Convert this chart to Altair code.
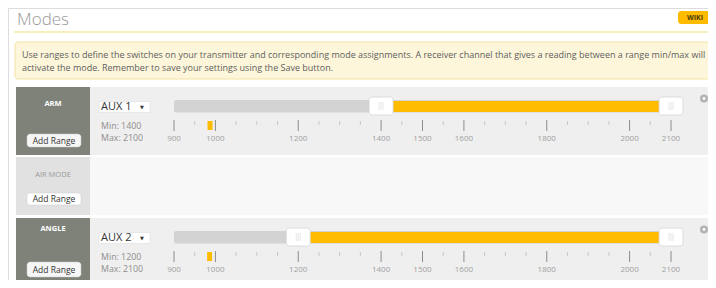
import altair as alt
import pandas as pd

# ---------------- data ----------------
title_text = "Modes"
wiki_text = "WIKI"
info_lines = [
    "Use ranges to define the switches on your transmitter and corresponding mode assignments. A receiver channel that gives a reading between a range min/max will",
    "activate the mode. Remember to save your settings using the Save button.",
]
mode_names = ["ARM", "AIR MODE", "ANGLE"]
mode_active = [True, False, True]
aux_channels = ["AUX 1", "", "AUX 2"]
range_min = [1400, None, 1200]
range_max = [2100, None, 2100]
channel_value = [987, None, 986]
button_label = "Add Range"
major_ticks = [900, 1000, 1200, 1400, 1500, 1600, 1800, 2000, 2100]
minor_ticks = [950, 1050, 1100, 1150, 1250, 1300, 1350, 1450, 1550, 1650,
               1700, 1750, 1850, 1900, 1950, 2050]
slider_lo, slider_hi = 900, 2100

# ---------------- layout (reference pixel coordinates) ----------------
OFF = 8
W, H = 700, 272
ROW_TOP = [87, 157, 218]
ROW_BOT = [155, 215, 292]
LABEL_Y = [104, 175, 229]
BTN_Y = [(134, 147), (193, 205), (262, 277)]
PX900, PX2100 = 174, 671
K = (PX2100 - PX900) / (slider_hi - slider_lo)

ORANGE = "#ffbb00"
FONT = "Open Sans"

XPX = alt.Scale(domain=[OFF, OFF + W], range=[0, W], nice=False, zero=False)
YPX = alt.Scale(domain=[OFF, OFF + H], range=[0, H], nice=False, zero=False)
lo = slider_lo - (PX900 - OFF) / K
XPWM = alt.Scale(domain=[lo, lo + W / K], range=[0, W], nice=False, zero=False)


def rects(rows, xscale=XPX, **mark):
    df = pd.DataFrame(rows, columns=["x0", "x1", "y0", "y1", "fill"])
    return alt.Chart(df).mark_rect(**mark).encode(
        x=alt.X("x0:Q", scale=xscale, axis=None), x2="x1:Q",
        y=alt.Y("y0:Q", scale=YPX, axis=None), y2="y1:Q",
        color=alt.Color("fill:N", scale=None))


def texts(rows, xscale=XPX, **mark):
    df = pd.DataFrame(rows, columns=["x", "y", "t", "c"])
    m = dict(font=FONT, baseline="middle")
    m.update(mark)
    return alt.Chart(df).mark_text(**m).encode(
        x=alt.X("x:Q", scale=xscale, axis=None),
        y=alt.Y("y:Q", scale=YPX, axis=None),
        text="t:N", color=alt.Color("c:N", scale=None))


layers = []

# header
layers.append(texts([(17, 19.5, title_text, "#9a9a9a")], fontSize=17, fontWeight=300, align="left"))
layers.append(rects([(678, 712, 11, 24, ORANGE)], cornerRadius=3))
layers.append(texts([(695, 17.5, wiki_text, "#4a3a00")], fontSize=7, fontWeight="bold", align="center"))
layers.append(rects([(14, 716, 31, 33, "#f8efbd")]))

# info box
layers.append(rects([(15, 712, 42, 79, "#fdf6da")], stroke="#f3e3a2", strokeWidth=1, cornerRadius=3))
layers.append(texts([(22, 55, info_lines[0], "#5e5e5e"), (22, 68, info_lines[1], "#5e5e5e")],
                    fontSize=9, align="left"))

# rows: panels
left_rows, right_rows, name_rows, btn_rows, btn_text = [], [], [], [], []
for i, name in enumerate(mode_names):
    act = mode_active[i]
    left_rows.append((16, 90, ROW_TOP[i], ROW_BOT[i], "#7e8279" if act else "#e1e1e1"))
    right_rows.append((90, 716, ROW_TOP[i], ROW_BOT[i], "#efefef" if act else "#f8f8f8"))
    name_rows.append((53, LABEL_Y[i], name, "#ffffff" if act else "#9a9a9a"))
    btn_rows.append((27, 81, BTN_Y[i][0], BTN_Y[i][1], "#f6f6f6" if act else "#ffffff"))
    btn_text.append((54, (BTN_Y[i][0] + BTN_Y[i][1]) / 2, button_label, "#333333"))
layers.append(rects(left_rows))
layers.append(rects(right_rows))
layers.append(texts([r for r, a in zip(name_rows, mode_active) if a], fontSize=7.5, fontWeight="bold", align="center"))
layers.append(texts([r for r, a in zip(name_rows, mode_active) if not a], fontSize=7.5, align="center"))
layers.append(rects(btn_rows, stroke="#cfcfcf", strokeWidth=0.5, cornerRadius=3))
layers.append(texts(btn_text, fontSize=8.5, align="center"))

# active rows: dropdown, min/max, slider
dd, dd_t, dd_a, mm, track, rng, handles, marker, maj, minr, lab, gear = ([] for _ in range(12))
for i, name in enumerate(mode_names):
    if not mode_active[i]:
        continue
    t = ROW_TOP[i]
    dd.append((99, 150, t + 14.5, t + 25.5, "#ffffff"))
    dd_t.append((101, t + 20, aux_channels[i], "#333333"))
    dd_a.append((142, t + 19.5, "▼", "#333333"))
    mm.append((101, t + 39, f"Min: {range_min[i]}", "#8e8e8e"))
    mm.append((101, t + 50.5, f"Max: {range_max[i]}", "#8e8e8e"))
    track.append((slider_lo, slider_hi, t + 13, t + 25.5, "#d3d3d3"))
    rng.append((range_min[i], range_max[i], t + 14, t + 25, ORANGE))
    for v in (range_min[i], range_max[i]):
        handles.append((v, v, t + 10, t + 28, "#ffffff"))
    marker.append((channel_value[i], channel_value[i], t + 34, t + 43, ORANGE))
    for v in major_ticks:
        maj.append((v, v, t + 33, t + 44, "#8c8c8c"))
        lab.append((v, t + 52, str(v), "#a0a0a0"))
    for v in minor_ticks:
        minr.append((v, v, t + 34, t + 38, "#c8c8c8"))
    gear.append((704, t + 11.5))

layers.append(rects(dd, stroke="#dddddd", strokeWidth=0.6))
layers.append(texts(dd_t, fontSize=11, align="left"))
layers.append(texts(dd_a, fontSize=5, align="center", font="DejaVu Sans"))
layers.append(texts(mm, fontSize=8.8, align="left"))
layers.append(rects(track, xscale=XPWM, x2Offset=11, cornerRadius=2))
layers.append(rects(rng, xscale=XPWM))
layers.append(rects(handles, xscale=XPWM, xOffset=-12, x2Offset=12, stroke="#d6d6d6",
                    strokeWidth=0.8, cornerRadius=3))
for off in (-2, 0, 2):
    layers.append(rects([(h[0], h[1], h[2] + 5, h[3] - 5, "#e6e6e6") for h in handles],
                        xscale=XPWM, xOffset=off - 0.5, x2Offset=off + 0.5))
layers.append(rects(marker, xscale=XPWM, xOffset=-2.5, x2Offset=2.5))
layers.append(rects(maj, xscale=XPWM, xOffset=-0.5, x2Offset=0.5))
layers.append(rects(minr, xscale=XPWM, xOffset=-0.5, x2Offset=0.5))
layers.append(texts(lab, xscale=XPWM, fontSize=8, align="center"))

gdf = pd.DataFrame(gear, columns=["x", "y"])
for size, col in ((64, "#b3b3b3"), (8, "#ffffff")):
    layers.append(alt.Chart(gdf).mark_point(filled=True, shape="circle", size=size, color=col, opacity=1).encode(
        x=alt.X("x:Q", scale=XPX, axis=None), y=alt.Y("y:Q", scale=YPX, axis=None)))

chart = alt.layer(*layers).resolve_scale(x="independent").properties(
    width=W, height=H, padding=0, autosize="none"
).configure_view(strokeWidth=0, stroke="transparent").configure(background="#ffffff")

chart.save("out.html", embed_options={"renderer": "svg", "actions": False})
